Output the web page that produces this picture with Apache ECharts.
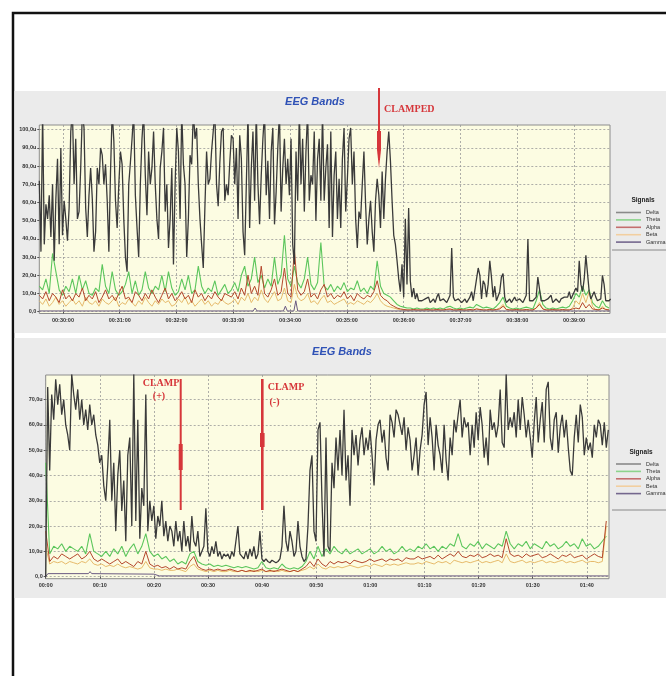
<!DOCTYPE html>
<html>
<head>
<meta charset="utf-8">
<script src="https://cdn.jsdelivr.net/npm/echarts@6/dist/echarts.min.js"></script>
<style>
  html, body { margin: 0; padding: 0; background: #fff; }
  #main { width: 666px; height: 676px; }
</style>
</head>
<body>
<div id="main"></div>
<script>
var names = ['Delta', 'Theta', 'Alpha', 'Beta', 'Gamma'];
var lineColors = ['#3a3a3a', '#5cc65c', '#b4472c', '#e6ba6a', '#6a5a82'];
var lineWidths = [1.3, 1.1, 1, 1, 1];
var legendColors = ['#8a8a8a', '#8cd38c', '#c46e6e', '#f2cfa0', '#74678e'];

// ---- top chart (seconds of day, 00:29:35 .. 00:39:38) ----
var topStart = 1775, topDeltaStep = 1.75, topBandStep = 3.5;
var topTicks = [1800, 1860, 1920, 1980, 2040, 2100, 2160, 2220, 2280, 2340];
var topYTicks = [0, 10, 20, 30, 40, 50, 60, 70, 80, 90, 100];

var topDelta = [
  72,33,110,37,59,51,64,41,70,28,62,84,37,90,42,61,51,39,57,99,110,70,95,51,55,79,110,101,57,41,
  64,79,62,33,44,79,70,90,86,70,81,61,33,77,110,94,61,46,70,88,81,51,30,22,70,82,95,110,64,46,
  30,70,95,110,75,53,88,70,79,99,70,51,40,79,88,101,55,70,35,51,79,26,70,101,88,51,110,81,70,30,
  51,86,81,110,95,101,70,51,37,24,58,88,70,73,88,99,110,70,58,82,99,101,61,70,64,82,97,
  95,70,90,51,97,84,44,31,70,110,46,79,99,61,110,70,48,75,95,110,64,83,51,88,101,48,66,90,110,55,
  79,95,70,84,64,95,37,26,88,61,110,70,95,55,88,110,61,75,70,99,50,84,95,61,110,61,79,92,46,99,
  41,75,88,51,73,46,84,101,55,73,95,101,70,88,51,35,55,51,70,88,59,37,51,61,44,33,61,73,64,46,
  77,51,73,88,99,83,61,42,37,28,18,11,26,8,51,15,57,17,8,13,7,10,6,7,
  6,5,7,6,8,5,6,7,5,8,10,6,5,7,6,5,7,9,35,8,6,5,7,6,5,6,7,5,6,8,
  11,6,7,18,24,20,7,17,15,8,15,28,19,8,14,6,7,11,19,21,8,5,6,7,5,6,8,6,5,7,
  6,5,7,9,40,6,7,6,5,8,19,18,6,5,6,5,7,6,9,5,6,7,6,5,7,6,8,9,8,11,
  7,9,11,13,11,28,15,11,18,31,31,11,7,8,11,8,6,7,7,20,15,6,7,6,7
];
var topTheta = [
  14,12,18,10,32,22,12,9,14,11,18,10,20,12,17,10,9,13,11,26,14,10,22,12,9,11,15,22,10,17,
  9,12,22,13,10,14,12,20,11,22,13,9,11,18,12,20,10,12,25,14,10,13,11,17,9,12,15,10,
  12,16,11,20,25,14,18,30,16,20,13,18,14,30,15,20,42,18,14,25,16,13,18,30,15,12,16,38,14,12,
  15,11,14,12,16,11,13,12,17,11,13,10,14,12,28,14,10,9,8,6,4,3,2.5,2,2,1.5,2,1.5,
  1.5,2,1.5,2,1.5,2,1.5,2.5,3,2,1.5,2,1.5,2,2.5,2,4,3,2,2.5,2,1.5,3,5,8,3,2,1.5,2,1.5,
  2,2.5,2,1.5,6,12,4,2,1.5,2,1.5,2,2.5,2,3,6,10,8,14,9,12,5,3,2,6,3,2
];
var topAlpha = [
  9,7,11,6,10,8,5,12,7,9,6,10,8,13,6,9,7,11,5,8,12,7,9,6,10,14,7,8,5,11,
  9,6,10,7,12,8,5,9,13,7,10,6,8,11,7,9,5,12,8,10,6,9,7,11,8,6,10,9,
  8,11,7,13,9,20,10,14,9,25,10,8,12,18,9,11,24,10,8,34,12,9,11,18,8,10,7,12,15,8,
  10,7,9,8,11,7,9,6,10,8,7,9,8,11,17,9,7,6,4,3,2,1.5,1.2,1,1,1.2,1,1,
  1,1.2,1,1,1.2,1,1,1.3,1.5,1,1,1.2,1,1,1.2,1,1.5,1.2,1,1,1.2,1,1.2,1.5,3,1.2,1,1,1.2,1,
  1,1.2,1,1,2,4,1.5,1,1,1.2,1,1,1.2,1,1,1.5,2,1.5,5,2,4,1.5,1.2,1,2,1.2,1
];
var topBeta = [
  6,4,7,3,5,8,4,6,3,5,7,4,6,3,8,5,4,6,3,7,5,4,6,8,3,5,4,7,5,3,
  6,4,8,5,3,6,4,7,5,6,3,4,7,5,8,4,6,3,5,7,4,6,3,5,4,7,5,4,
  5,7,4,8,6,10,5,8,6,12,7,5,8,11,6,7,13,6,5,15,8,6,7,10,5,6,4,7,9,5,
  6,4,5,6,7,4,5,4,6,5,4,6,5,7,10,6,4,3,2.5,2,1.5,1,0.8,0.7,0.7,0.8,0.7,0.7,
  0.7,0.8,0.7,0.7,0.8,0.7,0.8,1,1.2,0.8,0.7,0.8,0.7,0.7,0.8,0.7,1.5,1,0.8,0.7,0.8,0.7,1,2,4,1,0.8,0.7,0.8,0.7,
  0.7,0.8,0.7,0.7,2,5,1.5,0.8,0.7,0.8,0.7,0.7,0.8,0.7,0.8,2,6,4,10,5,11,3,1,0.8,3,1.2,0.8
];
var topGamma = [[1775,0.4],[2001,0.4],[2003,2],[2005,0.4],[2033,0.4],[2035,3],[2037,0.4],
  [2044,0.4],[2046,6],[2048,0.4],[2378,0.4]];

// ---- bottom chart (mm:ss, 00:00 .. 01:44) ----
var botDeltaStep = 0.37, botBandStep = 0.74;
var botTicks = [0, 10, 20, 30, 40, 50, 60, 70, 80, 90, 100];
var botYTicks = [0, 10, 20, 30, 40, 50, 60, 70];

var botDelta = [
  0,75,42,72,62,78,68,76,64,70,60,56,50,80,72,66,74,62,70,60,66,58,68,60,64,56,52,45,48,36,
  30,44,62,30,45,18,40,50,26,38,14,48,55,20,80,22,62,15,35,28,72,18,30,22,28,15,24,20,30,16,
  22,14,20,18,12,22,14,18,10,22,12,16,10,24,14,12,18,8,10,12,27,10,8,12,9,14,8,10,7,9,
  8,9,7,10,8,14,20,9,8,7,10,7,11,8,12,7,9,18,7,6,7,6,5.5,6.5,6,5.5,6,7,12,28,
  14,10,18,14,8,10,22,12,8,6,7,20,42,48,18,14,58,61,30,8,55,12,10,45,35,55,42,58,40,66,
  38,48,28,58,48,56,44,54,59,48,55,50,58,48,36,54,60,62,53,58,47,42,64,61,55,66,64,60,56,63,
  50,59,54,42,48,
  55,40,50,56,68,73,52,63,55,42,60,52,48,41,60,46,38,55,48,62,57,64,70,55,63,59,61,48,60,51,
  65,54,67,60,47,55,44,66,58,61,55,60,74,53,51,80,58,63,59,65,55,70,58,71,64,55,62,55,47,61,
  71,53,62,69,53,74,77,55,50,62,65,49,59,64,55,62,51,42,40,55,64,53,68,63,48,55,50,53,47,60,
  55,62,60,52,61,51,58
];
var botTheta = [
  45,9,12,11,13,10,12,11,10,12,9,17,10,9,8,10,8,11,9,12,8,11,13,9,12,17,10,8,9,7,
  8,6,7,5,6,5,9,10,6,5,4.5,5,4,4.5,4,
  4.5,4,3.5,4,3.5,4,3.5,3,3.5,6,3.5,3,3.5,3,5,3.5,3,3.5,3,4,6,10,7,12,8,11,9,12,10,9,
  11,9,10,11,9,10,11,9,10,12,10,11,9,10,12,10,11,
  10,12,11,13,11,12,10,12,11,13,12,17,12,11,13,12,14,11,13,12,11,13,12,18,13,11,13,12,14,11,
  13,12,11,14,12,13,11,12,14,12,13,11,15,12,13,11,12,14,16
];
var botAlpha = [
  18,6,8,7,9,8,7,8,9,7,8,10,7,6,7,6,5,6,7,5,6,5,4,6,5,10,5,4,4.5,3.5,
  4,3,4,3,3.5,3,6,8,4,3,2.5,3,2.5,3,2.5,
  2.5,3,2.5,2,2.5,2,2.5,2,2.5,3,2,2.5,2,2.5,3,2.5,2,2.5,2,3,4,6,4,7,5,4,6,5,6,5.5,
  6,5,6.5,6,5.5,6,7,6,6.5,7,6,7,6.5,7,6,7.5,7,
  7,8,7,7.5,8,7,8.5,7,8,9,8,10,8,7.5,8.5,8,9,7.5,8,9,8,8.5,7.5,15,9,8,8.5,7.5,9,8,
  8.5,9,7.5,8,9,8,7,8.5,8,9,7.5,8,8.5,7,8,9,8,7.5,22
];
var botBeta = [
  12,5,6,5.5,6,5,6,5.5,5,6,5.5,7,5,4.5,5,4,4.5,4,5,4,3.5,4,3.5,3,3.5,6,3.5,3,3,2.5,
  3,2.5,2.5,3,2.5,2,4,5,3,2.5,2,2.5,2,2.5,2,
  2,2.5,2,2,2.5,2,2,2.5,2,2.5,2,2,2.5,2,2.5,2,2,2.5,2,2.5,3,4,3,5,3.5,3,4,3.5,4,3.5,
  4,4.5,4,3.5,4,4.5,4,5,4.5,4,5,4.5,5,4.5,5,5.5,5,
  5,5.5,5,6,5.5,5,6,5.5,6,5,6.5,6,5.5,6,5.5,6,6.5,5.5,6,5.5,6,6.5,5.5,9,6,5.5,6,6.5,5.5,6,
  5.5,6,6.5,5.5,6,5.5,6,6.5,5.5,6,5.5,6,6.5,5.5,6,6,5.5,6,20
];
var botGamma = [[0,0],[0.4,1.2],[7.9,1.2],[8.2,2],[8.5,1.2],[20,1],[21,0.3],[104,0.3]];

function pairs(start, step, vals) {
  return vals.map(function (v, i) { return [start + i * step, v]; });
}
function pad(n) { return (n < 10 ? '0' : '') + n; }
function yFmt(v) { return v === 0 ? '0,0' : v.toFixed(1).replace('.', ',') + 'u'; }

var chart = echarts.init(document.getElementById('main'));

function makeSeries(name, idx, data, gi) {
  return {
    name: name, type: 'line', xAxisIndex: gi, yAxisIndex: gi,
    data: data, showSymbol: false, symbol: 'none', animation: false,
    lineStyle: { color: lineColors[idx], width: lineWidths[idx] }, itemStyle: { color: lineColors[idx] },
    z: idx === 0 ? 4 : 3
  };
}

var axisLabelStyle = { fontSize: 5.5, fontWeight: 'bold', color: '#333', fontFamily: 'Liberation Sans' };
var splitStyle = { show: true, lineStyle: { color: '#9a9a9a', type: [2, 2], width: 0.8 } };

function legendFor(top) {
  return {
    orient: 'vertical', left: 616, top: top, padding: 0, itemGap: 0.4,
    itemWidth: 25, itemHeight: 1.6, icon: 'rect', selectedMode: false,
    textStyle: { fontSize: 5.5, lineHeight: 7, color: '#333', fontFamily: 'Liberation Sans' },
    data: names.map(function (n, i) {
      return { name: n, itemStyle: { color: legendColors[i] } };
    })
  };
}

var red = '#d6363a';
var option = {
  backgroundColor: '#ffffff',
  animation: false,
  grid: [
    { left: 39.3, top: 125, width: 570.7, height: 188.5, show: true,
      backgroundColor: '#fcfce2', borderColor: '#8c8c8c', borderWidth: 1 },
    { left: 45.7, top: 375, width: 563.3, height: 203.7, show: true,
      backgroundColor: '#fcfce2', borderColor: '#8c8c8c', borderWidth: 1 }
  ],
  xAxis: [
    { type: 'value', gridIndex: 0, min: 1775, max: 2378,
      axisLine: { show: false },
      axisTick: { show: true, length: 2, customValues: topTicks, lineStyle: { color: '#555' } },
      axisLabel: Object.assign({ margin: 4, customValues: topTicks,
        formatter: function (v) { return '00:' + pad(Math.floor(v / 60)) + ':' + pad(Math.round(v % 60)); } }, axisLabelStyle),
      splitLine: splitStyle },
    { type: 'value', gridIndex: 1, min: 0, max: 104.1,
      axisLine: { show: false },
      axisTick: { show: true, length: 2, customValues: botTicks, lineStyle: { color: '#555' } },
      axisLabel: Object.assign({ margin: 4, customValues: botTicks,
        formatter: function (v) { return pad(Math.floor(v / 60)) + ':' + pad(Math.round(v % 60)); } }, axisLabelStyle),
      splitLine: splitStyle }
  ],
  yAxis: [
    { type: 'value', gridIndex: 0, min: -1, max: 102.6,
      axisLine: { show: false },
      axisTick: { show: true, length: 2, customValues: topYTicks, lineStyle: { color: '#555' } },
      axisLabel: Object.assign({ margin: 3, customValues: topYTicks, formatter: yFmt }, axisLabelStyle),
      splitLine: splitStyle },
    { type: 'value', gridIndex: 1, min: -0.8, max: 79.7,
      axisLine: { show: false },
      axisTick: { show: true, length: 2, customValues: botYTicks, lineStyle: { color: '#555' } },
      axisLabel: Object.assign({ margin: 3, customValues: botYTicks, formatter: yFmt }, axisLabelStyle),
      splitLine: splitStyle }
  ],
  legend: [legendFor(209), legendFor(460.5)],
  series: [
    makeSeries('Theta', 1, pairs(topStart, topBandStep, topTheta), 0),
    makeSeries('Beta', 3, pairs(topStart, topBandStep, topBeta), 0),
    makeSeries('Alpha', 2, pairs(topStart, topBandStep, topAlpha), 0),
    makeSeries('Gamma', 4, topGamma, 0),
    makeSeries('Delta', 0, pairs(topStart, topDeltaStep, topDelta), 0),
    makeSeries('Theta', 1, pairs(0, botBandStep, botTheta), 1),
    makeSeries('Beta', 3, pairs(0, botBandStep, botBeta), 1),
    makeSeries('Alpha', 2, pairs(0, botBandStep, botAlpha), 1),
    makeSeries('Gamma', 4, botGamma, 1),
    makeSeries('Delta', 0, pairs(0, botDeltaStep, botDelta), 1)
  ],
  graphic: [
    // page frame and panels
    { type: 'rect', z: -20, shape: { x: 13, y: 13, width: 700, height: 700 },
      style: { fill: '#ffffff', stroke: '#111', lineWidth: 2.5 } },
    { type: 'rect', z: -19, shape: { x: 14.5, y: 91, width: 660, height: 242 },
      style: { fill: '#ebebeb' } },
    { type: 'rect', z: -19, shape: { x: 14.5, y: 338, width: 660, height: 260 },
      style: { fill: '#ebebeb' } },
    // titles
    { type: 'text', x: 315, y: 102, z: 50,
      style: { text: 'EEG Bands', align: 'center', verticalAlign: 'middle',
        font: 'italic bold 11px "Liberation Sans", Arial, sans-serif', fill: '#2f52b6' } },
    { type: 'text', x: 342, y: 352, z: 50,
      style: { text: 'EEG Bands', align: 'center', verticalAlign: 'middle',
        font: 'italic bold 11px "Liberation Sans", Arial, sans-serif', fill: '#2f52b6' } },
    // legend headers and rules
    { type: 'text', x: 643, y: 200.5, z: 50,
      style: { text: 'Signals', align: 'center', verticalAlign: 'middle',
        font: 'bold 6.5px "Liberation Sans", Arial, sans-serif', fill: '#222' } },
    { type: 'line', z: 50, shape: { x1: 612, y1: 250, x2: 666, y2: 250 },
      style: { stroke: '#888', lineWidth: 1 } },
    { type: 'text', x: 641, y: 452.5, z: 50,
      style: { text: 'Signals', align: 'center', verticalAlign: 'middle',
        font: 'bold 6.5px "Liberation Sans", Arial, sans-serif', fill: '#222' } },
    { type: 'line', z: 50, shape: { x1: 612, y1: 510, x2: 666, y2: 510 },
      style: { stroke: '#888', lineWidth: 1 } },
    // clamp annotations
    { type: 'line', z: 60, shape: { x1: 379, y1: 88, x2: 379, y2: 160 },
      style: { stroke: red, lineWidth: 2 } },
    { type: 'polygon', z: 60, shape: { points: [[377, 131], [381, 131], [381, 150], [379, 168], [377, 150]] },
      style: { fill: red } },
    { type: 'text', x: 384, y: 109, z: 60,
      style: { text: 'CLAMPED', align: 'left', verticalAlign: 'middle',
        font: 'bold 10px "Liberation Serif", "Times New Roman", serif', fill: red } },
    { type: 'line', z: 60, shape: { x1: 180.7, y1: 379, x2: 180.7, y2: 510 },
      style: { stroke: red, lineWidth: 2 } },
    { type: 'rect', z: 60, shape: { x: 178.7, y: 444, width: 4, height: 26 },
      style: { fill: red } },
    { type: 'text', x: 161, y: 383, z: 60,
      style: { text: 'CLAMP', align: 'center', verticalAlign: 'middle',
        font: 'bold 10px "Liberation Serif", "Times New Roman", serif', fill: red } },
    { type: 'text', x: 159, y: 396.5, z: 60,
      style: { text: '(+)', align: 'center', verticalAlign: 'middle',
        font: 'bold 10px "Liberation Serif", "Times New Roman", serif', fill: red } },
    { type: 'line', z: 60, shape: { x1: 262.3, y1: 379, x2: 262.3, y2: 510 },
      style: { stroke: red, lineWidth: 2.6 } },
    { type: 'rect', z: 60, shape: { x: 260, y: 433, width: 4.6, height: 14 },
      style: { fill: red } },
    { type: 'text', x: 286, y: 387, z: 60,
      style: { text: 'CLAMP', align: 'center', verticalAlign: 'middle',
        font: 'bold 10px "Liberation Serif", "Times New Roman", serif', fill: red } },
    { type: 'text', x: 274.5, y: 402, z: 60,
      style: { text: '(-)', align: 'center', verticalAlign: 'middle',
        font: 'bold 10px "Liberation Serif", "Times New Roman", serif', fill: red } }
  ]
};

chart.setOption(option);
</script>
</body>
</html>
